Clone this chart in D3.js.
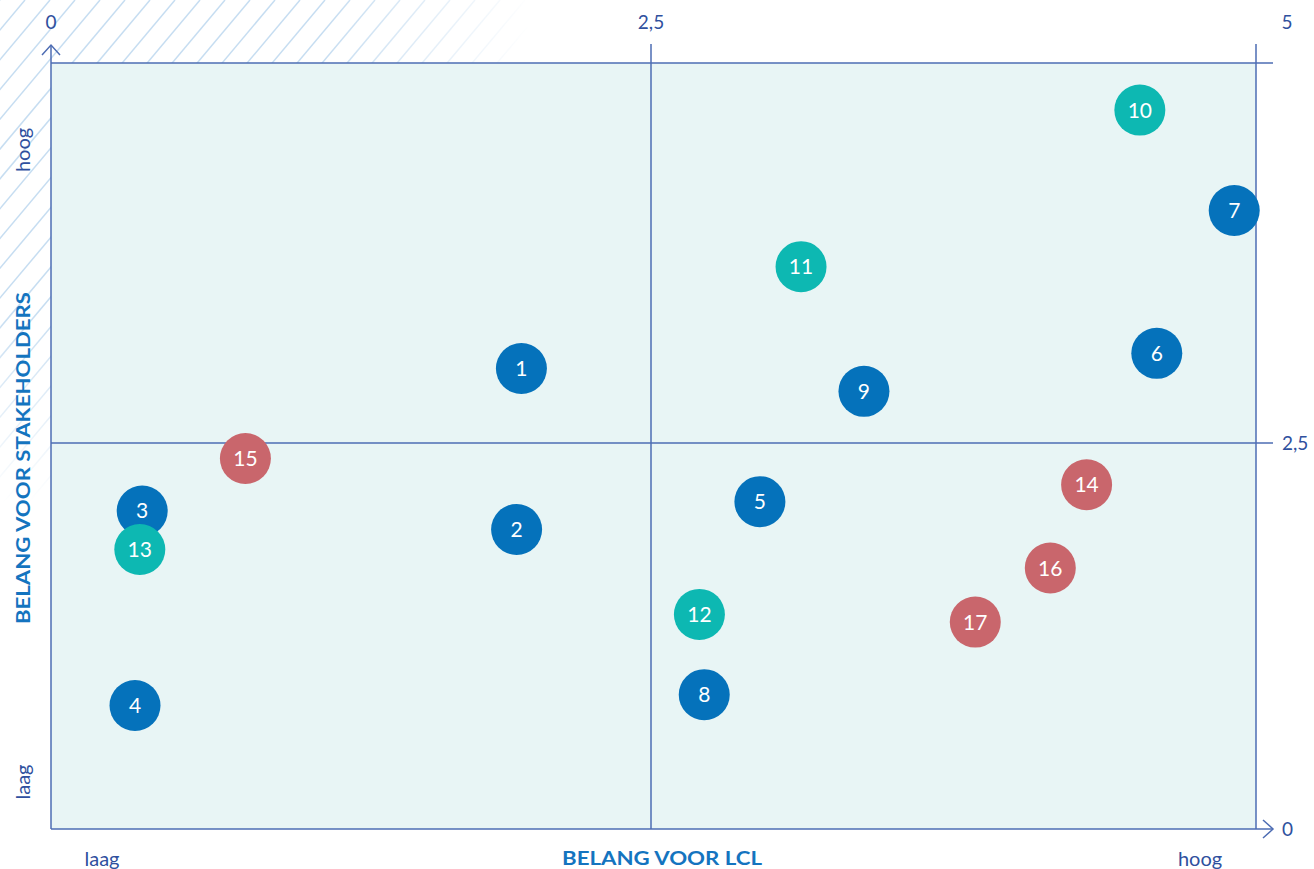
<!DOCTYPE html>
<html>
<head>
<meta charset="utf-8">
<script src="https://cdn.jsdelivr.net/npm/d3@7"></script>
<style>
  body { margin: 0; background: #fff; }
  text { font-family: Lato, "Open Sans", sans-serif; }
</style>
</head>
<body>
<div id="chart"></div>
<script>
// topic numbers, grouped by colour
var labels = ['1','2','3','4','5','6','7','8','9','10','11','12','13','14','15','16','17'];
var lclValues = [1.96, 1.94, 0.38, 0.35, 2.95, 4.59, 4.91, 2.72, 3.38, 4.52, 3.12, 2.70, 0.37, 4.30, 0.81, 4.15, 3.84];
var stakeholderValues = [2.99, 1.94, 2.06, 0.80, 2.12, 3.09, 4.03, 0.87, 2.84, 4.69, 3.66, 1.39, 1.81, 2.23, 2.40, 1.69, 1.34];
var groups = ['a','a','a','a','a','a','a','a','a','b','b','b','b','c','c','c','c'];
var tickValues = [0, 2.5, 5];
var tickLabels = ['0', '2,5', '5'];

var svgWidth = 1314;
var svgHeight = 869;

var svg = d3.select('#chart')
    .append('svg')
    .attr('width', svgWidth)
    .attr('height', svgHeight);

var lineColor = '#4d6cb3';
var textColor = '#2f509e';
var titleColor = '#1474bf';

var xScale = d3.scaleLinear()
    .domain(tickValues)
    .range([51, 651, 1256]);

var yScale = d3.scaleLinear()
    .domain(tickValues)
    .range([829, 443, 63]);

var colorScale = d3.scaleOrdinal()
    .domain(['a', 'b', 'c'])
    .range(['#0572bb', '#0db8b2', '#c9666c']);

// hatched corner: diagonal strokes painted with a fading radial gradient
var defs = svg.append('defs');
var grad = defs.append('radialGradient')
    .attr('id', 'fade')
    .attr('gradientUnits', 'userSpaceOnUse')
    .attr('cx', 0).attr('cy', 0).attr('r', 530)
    .attr('gradientTransform', 'scale(1,0.95)');
grad.append('stop').attr('offset', '0%').attr('stop-color', '#c6ddf1').attr('stop-opacity', 1);
grad.append('stop').attr('offset', '62%').attr('stop-color', '#c6ddf1').attr('stop-opacity', 1);
grad.append('stop').attr('offset', '100%').attr('stop-color', '#c6ddf1').attr('stop-opacity', 0);

var hatchDx = 600 / Math.tan(50 * Math.PI / 180);
svg.append('g')
    .selectAll('line')
    .data(d3.range(0, 1100, 25))
    .enter()
    .append('line')
    .attr('x1', d => d).attr('y1', 0)
    .attr('x2', d => d - hatchDx).attr('y2', 600)
    .attr('stroke', 'url(#fade)')
    .attr('stroke-width', 1.5);

// plot area
svg.append('rect')
    .attr('x', xScale(0))
    .attr('y', yScale(5))
    .attr('width', xScale(5) - xScale(0))
    .attr('height', yScale(0) - yScale(5))
    .attr('fill', '#e8f5f5');

var lines = svg.append('g')
    .attr('stroke', lineColor)
    .attr('stroke-width', 1.5)
    .attr('fill', 'none');

// vertical lines at 2.5 and 5, horizontal at 2.5 and 5
lines.selectAll('.vline')
    .data([2.5, 5])
    .enter()
    .append('line')
    .attr('x1', d => xScale(d)).attr('x2', d => xScale(d))
    .attr('y1', 44).attr('y2', yScale(0));

lines.selectAll('.hline')
    .data([2.5, 5])
    .enter()
    .append('line')
    .attr('x1', xScale(0)).attr('x2', 1273)
    .attr('y1', d => yScale(d)).attr('y2', d => yScale(d));

// axes with arrow heads
lines.append('line')
    .attr('x1', xScale(0)).attr('x2', xScale(0))
    .attr('y1', 46).attr('y2', yScale(0));
lines.append('path')
    .attr('d', `M${xScale(0) - 9},55 L${xScale(0)},45 L${xScale(0) + 9},55`);

lines.append('line')
    .attr('x1', xScale(0)).attr('x2', 1273)
    .attr('y1', yScale(0)).attr('y2', yScale(0));
lines.append('path')
    .attr('d', `M1263,${yScale(0) - 9} L1273,${yScale(0)} L1263,${yScale(0) + 9}`);

// tick labels
svg.selectAll('.topTick')
    .data(tickValues)
    .enter()
    .append('text')
    .attr('x', (d, i) => i == 2 ? 1287 : xScale(d))
    .attr('y', 29)
    .attr('text-anchor', 'middle')
    .attr('font-size', '19px')
    .attr('fill', textColor)
    .text((d, i) => tickLabels[i]);

svg.selectAll('.rightTick')
    .data(tickValues.slice(0, 2))
    .enter()
    .append('text')
    .attr('x', 1282)
    .attr('y', d => yScale(d))
    .attr('dy', '0.35em')
    .attr('font-size', '19px')
    .attr('fill', textColor)
    .text((d, i) => tickLabels[i]);

// low / high labels
svg.append('text')
    .attr('x', 102).attr('y', 866)
    .attr('text-anchor', 'middle')
    .attr('font-size', '20px')
    .attr('fill', textColor)
    .text('laag');

svg.append('text')
    .attr('x', 1200).attr('y', 866)
    .attr('text-anchor', 'middle')
    .attr('font-size', '20px')
    .attr('fill', textColor)
    .text('hoog');

svg.append('text')
    .attr('transform', 'translate(30, 150) rotate(-90)')
    .attr('text-anchor', 'middle')
    .attr('font-size', '20px')
    .attr('fill', textColor)
    .text('hoog');

svg.append('text')
    .attr('transform', 'translate(30, 782) rotate(-90)')
    .attr('text-anchor', 'middle')
    .attr('font-size', '20px')
    .attr('fill', textColor)
    .text('laag');

// axis titles
svg.append('text')
    .attr('x', 662).attr('y', 865)
    .attr('text-anchor', 'middle')
    .attr('font-size', '18px')
    .attr('font-weight', 'bold')
    .attr('fill', titleColor)
    .attr('textLength', 200)
    .attr('lengthAdjust', 'spacingAndGlyphs')
    .text('BELANG VOOR LCL');

svg.append('text')
    .attr('transform', 'translate(30, 458) rotate(-90)')
    .attr('text-anchor', 'middle')
    .attr('font-size', '18px')
    .attr('font-weight', 'bold')
    .attr('fill', titleColor)
    .attr('textLength', 332)
    .attr('lengthAdjust', 'spacingAndGlyphs')
    .text('BELANG VOOR STAKEHOLDERS');

// points
var points = svg.selectAll('.point')
    .data(labels)
    .enter()
    .append('g')
    .attr('transform', (d, i) => `translate(${xScale(lclValues[i])}, ${yScale(stakeholderValues[i])})`);

points.append('circle')
    .attr('r', 25.5)
    .attr('fill', (d, i) => colorScale(groups[i]));

points.append('text')
    .attr('text-anchor', 'middle')
    .attr('dy', '0.36em')
    .attr('font-size', '21px')
    .attr('fill', '#fff')
    .text(d => d);
</script>
</body>
</html>
